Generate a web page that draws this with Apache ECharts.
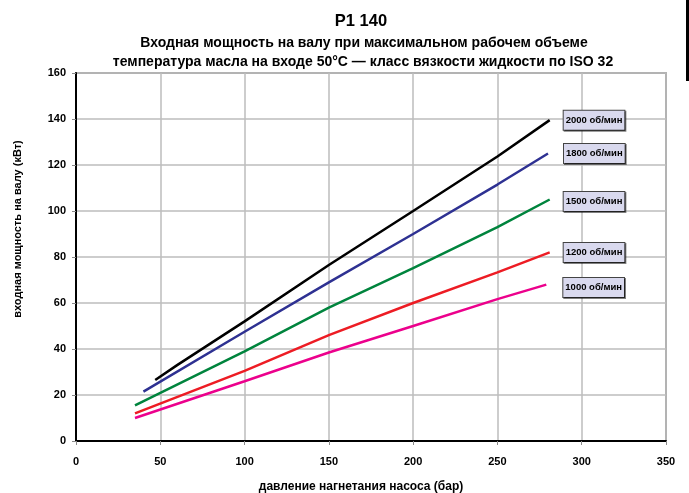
<!DOCTYPE html>
<html><head><meta charset="utf-8">
<script src="https://cdn.jsdelivr.net/npm/echarts@6/dist/echarts.min.js"></script>
<style>html,body{margin:0;padding:0;background:#fff}#c{width:689px;height:493px}</style>
</head><body><div id="c"></div>
<script>
// Data
const seriesNames = ['2000 об/мин', '1800 об/мин', '1500 об/мин', '1200 об/мин', '1000 об/мин'];
const rpm2000 = [[47, 26.5], [60, 33], [100, 52], [150, 76.5], [200, 100], [250, 123.7], [281, 139.5]];
const rpm1800 = [[40, 21.5], [100, 47.5], [150, 69], [200, 90], [250, 111.5], [280, 125]];
const rpm1500 = [[35, 15.5], [100, 39], [150, 58], [200, 75.2], [250, 93], [281, 105]];
const rpm1200 = [[35, 12], [100, 30.5], [150, 46], [200, 60], [250, 73.3], [281, 82]];
const rpm1000 = [[35, 10], [100, 26], [150, 38.5], [200, 50], [250, 61.7], [279, 68]];
const xTicks = [0, 50, 100, 150, 200, 250, 300, 350];
const yTicks = [0, 20, 40, 60, 80, 100, 120, 140, 160];

const colors = ['#000000', '#2E3192', '#00843D', '#ED1C24', '#EC008C'];
const labelOffsets = [[6, 0], [8, 0], [6, 2], [6, 0], [9, 3]];
const allData = [rpm2000, rpm1800, rpm1500, rpm1200, rpm1000];
const FONT = 'Liberation Sans, Arial, sans-serif';

const chart = echarts.init(document.getElementById('c'), null, {renderer: 'canvas'});
chart.setOption({
  animation: false,
  backgroundColor: '#ffffff',
  title: [
    {text: 'P1 140', left: 356, top: 8, textAlign: 'center',
     textStyle: {fontFamily: FONT, fontSize: 16.5, fontWeight: 'bold', color: '#000'}},
    {text: 'Входная мощность на валу при максимальном рабочем объеме', left: 359, top: 31, textAlign: 'center',
     textStyle: {fontFamily: FONT, fontSize: 14, fontWeight: 'bold', color: '#000'}},
    {text: 'температура масла на входе 50°C — класс вязкости жидкости по ISO 32', left: 358, top: 50, textAlign: 'center',
     textStyle: {fontFamily: FONT, fontSize: 14, fontWeight: 'bold', color: '#000'}}
  ],
  grid: {left: 76, right: 23, top: 73, bottom: 52, show: true, borderColor: '#777', borderWidth: 1.5,
         containLabel: false, outerBoundsMode: 'none'},
  xAxis: {
    type: 'value', min: xTicks[0], max: xTicks[xTicks.length - 1], interval: 50,
    name: 'давление нагнетания насоса (бар)', nameLocation: 'middle', nameGap: 40,
    nameTextStyle: {fontFamily: FONT, fontSize: 12, fontWeight: 'bold', color: '#000', padding: [0, 20, 0, 0]},
    axisLine: {show: true, lineStyle: {color: '#000', width: 2}},
    axisTick: {show: true, length: 4, lineStyle: {color: '#888', width: 1}},
    axisLabel: {fontFamily: FONT, fontSize: 11, fontWeight: 'bold', color: '#000', margin: 15},
    splitLine: {show: true, lineStyle: {color: '#bdbdbd', width: 1.5}}
  },
  yAxis: {
    type: 'value', min: yTicks[0], max: yTicks[yTicks.length - 1], interval: 20,
    axisLine: {show: true, lineStyle: {color: '#000', width: 2}},
    axisTick: {show: true, length: 4, lineStyle: {color: '#888', width: 1}},
    axisLabel: {fontFamily: FONT, fontSize: 11, fontWeight: 'bold', color: '#000', margin: 10},
    splitLine: {show: true, lineStyle: {color: '#bdbdbd', width: 1.5}}
  },
  graphic: [
    {type: 'text', x: 18, y: 229, rotation: Math.PI / 2,
     style: {text: 'входная мощность на валу (кВт)', fontFamily: FONT, fontSize: 11, fontWeight: 'bold',
             fill: '#000', textAlign: 'center', textVerticalAlign: 'middle'}},
    {type: 'rect', shape: {x: 686, y: 0, width: 3, height: 81}, style: {fill: '#000'}}
  ],
  series: allData.map((d, i) => ({
    name: seriesNames[i],
    type: 'line',
    data: d,
    showSymbol: false,
    symbol: 'none',
    lineStyle: {color: colors[i], width: 2.5},
    itemStyle: {color: colors[i]},
    z: 10 - i,
    endLabel: {
      show: true,
      formatter: seriesNames[i],
      offset: labelOffsets[i],
      fontFamily: FONT, fontSize: 9.5, fontWeight: 'bold', color: '#000',
      backgroundColor: '#D9D9EE',
      borderColor: '#444', borderWidth: 1,
      padding: [5, 2, 4, 2],
      shadowColor: 'rgba(0,0,0,0.5)', shadowOffsetX: 1, shadowOffsetY: 1, shadowBlur: 0
    }
  }))
});
</script></body></html>
